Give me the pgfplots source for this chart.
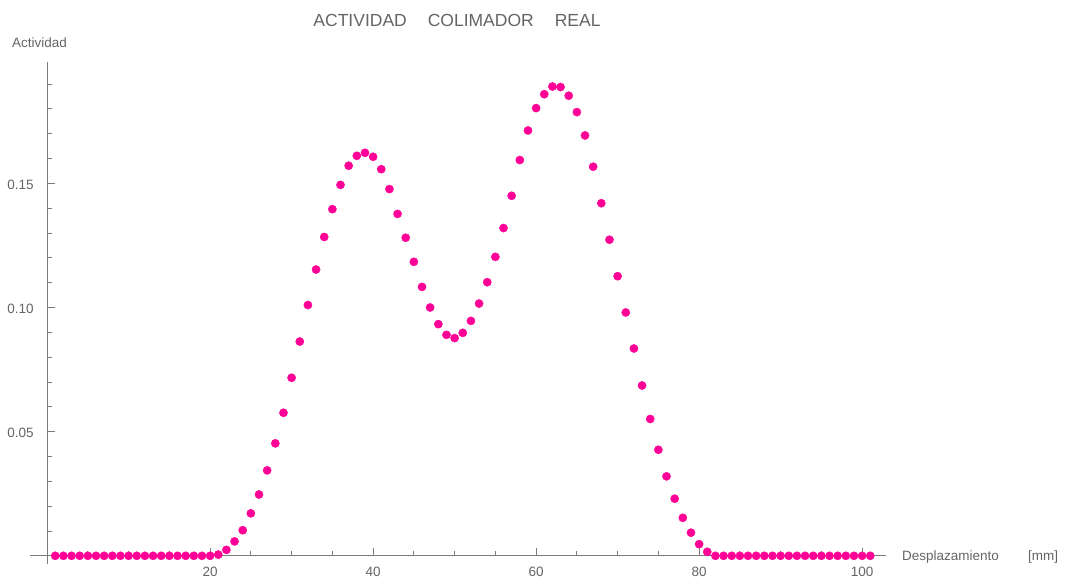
\documentclass[border=0pt]{standalone}
\usepackage{fontspec}
\setmainfont{Liberation Sans}
\usepackage{pgfplots}
\pgfplotsset{compat=1.18}
\definecolor{pts}{RGB}{255,0,150}
\definecolor{txtgray}{RGB}{100,100,100}
\definecolor{axgray}{RGB}{125,125,125}
\begin{document}
\begin{tikzpicture}
\begin{axis}[
  scale only axis,
  width=855.75pt, height=501.8pt,
  xmin=-2.1, xmax=102.9, ymin=-0.0033, ymax=0.1988,
  axis x line=middle, axis y line=middle,
  axis line style={-, draw=axgray, line width=0.9pt},
  xtick={20,40,60,80,100},
  minor xtick={5,10,15,25,30,35,45,50,55,65,70,75,85,90,95},
  ytick={0.05,0.1,0.15},
  minor ytick={0.01,0.02,0.03,0.04,0.06,0.07,0.08,0.09,0.11,0.12,0.13,0.14,0.16,0.17,0.18,0.19},
  tick style={draw=axgray, line width=0.9pt},
  every major x tick/.append style={yshift=4pt},
  every minor x tick/.append style={yshift=2.5pt},
  every major y tick/.append style={xshift=4pt},
  every minor y tick/.append style={xshift=2.5pt},
  major tick length=8pt, minor tick length=5pt,
  /pgf/number format/assume math mode=true,
  yticklabel style={/pgf/number format/.cd, fixed, fixed zerofill, precision=2, /tikz/.cd, font=\fontsize{13.5}{16}\selectfont, text=txtgray, xshift=-6pt, yshift=-1.5pt},
  xticklabel style={font=\fontsize{13.5}{16}\selectfont, text=txtgray, yshift=-4pt},
  clip=false,
]
\addplot[only marks, mark=*, mark size=4.1pt, mark options={draw=pts, fill=pts}, color=pts] coordinates {
(1,0)(2,0)(3,0)(4,0)(5,0)(6,0)(7,0)(8,0)(9,0)(10,0)
(11,0)(12,0)(13,0)(14,0)(15,0)(16,0)(17,0)(18,0)(19,0)(20,0)
(21,0.0005)(22,0.0024)(23,0.0058)(24,0.0103)(25,0.0171)(26,0.0247)(27,0.0344)(28,0.0453)(29,0.0576)(30,0.0717)
(31,0.0863)(32,0.1010)(33,0.1153)(34,0.1284)(35,0.1396)(36,0.1494)(37,0.1571)(38,0.1611)(39,0.1623)(40,0.1607)
(41,0.1557)(42,0.1477)(43,0.1377)(44,0.1281)(45,0.1184)(46,0.1083)(47,0.1000)(48,0.0933)(49,0.0890)(50,0.0877)
(51,0.0898)(52,0.0946)(53,0.1016)(54,0.1102)(55,0.1204)(56,0.1320)(57,0.1450)(58,0.1594)(59,0.1713)(60,0.1803)
(61,0.1859)(62,0.1890)(63,0.1888)(64,0.1853)(65,0.1787)(66,0.1693)(67,0.1567)(68,0.1420)(69,0.1273)(70,0.1126)
(71,0.0980)(72,0.0835)(73,0.0686)(74,0.0551)(75,0.0427)(76,0.0320)(77,0.0230)(78,0.0153)(79,0.0093)(80,0.0047)
(81,0.0016)(82,0)(83,0)(84,0)(85,0)(86,0)(87,0)(88,0)(89,0)(90,0)
(91,0)(92,0)(93,0)(94,0)(95,0)(96,0)(97,0)(98,0)(99,0)(100,0)(101,0)
};
\coordinate (O) at (rel axis cs:0,0);
\end{axis}
\pgfresetboundingbox
\path (O) ++(-30pt,-20pt) rectangle ++(1071pt,584pt);
\node[anchor=base, inner sep=0pt, text=txtgray, font=\fontsize{17.5}{20}\selectfont] at ([shift={(427pt,537pt)}]O) {ACTIVIDAD\hspace{1.2em}COLIMADOR\hspace{1.2em}REAL};
\node[anchor=base west, inner sep=0pt, text=txtgray, font=\fontsize{13.5}{16}\selectfont] at ([shift={(-18pt,516pt)}]O) {Actividad};
\node[anchor=base west, inner sep=0pt, text=txtgray, font=\fontsize{13.5}{16}\selectfont] at ([shift={(872pt,4pt)}]O) {Desplazamiento};
\node[anchor=base west, inner sep=0pt, text=txtgray, font=\fontsize{13.5}{16}\selectfont] at ([shift={(998pt,4pt)}]O) {[mm]};
\end{tikzpicture}
\end{document}
